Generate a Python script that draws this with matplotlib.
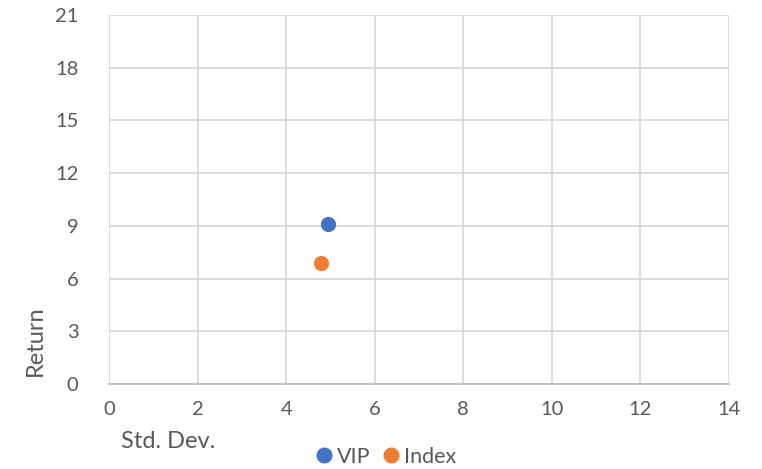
import matplotlib
matplotlib.use("Agg")
import matplotlib.pyplot as plt
from matplotlib.lines import Line2D

plt.rcParams['font.family'] = ['Lato', 'DejaVu Sans']

series = ["VIP", "Index"]
std_dev = [4.95, 4.79]
returns = [9.13, 6.89]
colors = ["#4472C4", "#ED7D31"]
x_ticks = [0, 2, 4, 6, 8, 10, 12, 14]
y_ticks = [0, 3, 6, 9, 12, 15, 18, 21]

W, H = 762, 469
fig = plt.figure(figsize=(W/100, H/100), dpi=100)
ax = fig.add_axes([109/W, 1-384/H, 620/W, 369/H])

for name, x, y, c in zip(series, std_dev, returns, colors):
    ax.scatter([x], [y], s=120, color=c, zorder=3, linewidths=0, label=name)

ax.set_xlim(0, 14)
ax.set_ylim(0, 21)
ax.set_xticks(x_ticks)
ax.set_yticks(y_ticks)
txtc = "#595959"
ax.tick_params(axis='both', length=0, labelsize=14.5, colors=txtc)
ax.tick_params(axis='x', pad=12)
ax.tick_params(axis='y', pad=22)
ax.grid(True, color="#D9D9D9", linewidth=1.3)
ax.set_axisbelow(True)
for s in ['top', 'right', 'left']:
    ax.spines[s].set_visible(False)
ax.spines['bottom'].set_color("#BFBFBF")
ax.spines['bottom'].set_linewidth(1.3)

fig.text(168/W, 1-441/H, "Std. Dev.", ha='center', va='center', fontsize=17, color=txtc)
fig.text(35/W, 1-341/H, "Return", ha='center', va='center', rotation=90, fontsize=17, color=txtc)

handles = [Line2D([0], [0], marker='o', linestyle='', markersize=10.5, color=c) for c in colors]
fig.legend(handles, series, loc='center', bbox_to_anchor=(385/W, 1-457/H), ncol=2,
           frameon=False, fontsize=15.5, labelcolor=txtc, handletextpad=0.1,
           columnspacing=0.45, handlelength=1.0)

fig.savefig("out.png", dpi=100)
